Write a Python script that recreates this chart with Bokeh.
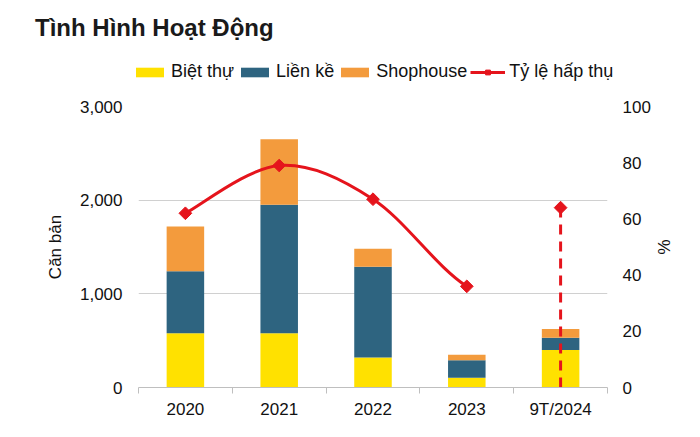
import numpy as np
from bokeh.plotting import figure
from bokeh.layouts import column
from bokeh.models import (Range1d, LinearAxis, FixedTicker, NumeralTickFormatter,
                          Legend, LegendItem, Div, ColumnDataSource)
from bokeh.embed import file_html
from bokeh.resources import INLINE

# ---- data ----
categories = ["2020", "2021", "2022", "2023", "9T/2024"]
biet_thu = [580, 580, 320, 105, 400]
lien_ke = [660, 1370, 970, 185, 130]
shophouse = [480, 700, 190, 60, 95]
ty_le = [62, 79, 67, 36, 64]          # %
left_ticks = [0, 1000, 2000, 3000]
right_ticks = [0, 20, 40, 60, 80, 100]
series_names = ["Biệt thự", "Liền kề", "Shophouse"]
line_name = "Tỷ lệ hấp thụ"
chart_title = "Tình Hình Hoạt Động"

YELLOW = "#FFE100"
BLUE = "#2E6480"
ORANGE = "#F39B3D"
RED = "#E5141C"
FONT = "Liberation Sans"
TXT = "#111111"

W = 684
TITLE_H = 45
LEG_H = 45
MAIN_H = 421 - TITLE_H - LEG_H

xs = [i + 0.5 for i in range(len(categories))]
src = ColumnDataSource(dict(x=xs, biet_thu=biet_thu, lien_ke=lien_ke, shophouse=shophouse))

# ================= title =================
header = Div(text=('<div style="padding:14px 0 0 35px;font-family:\'Liberation Sans\',Arial,sans-serif;'
                   'font-size:24px;font-weight:bold;color:#1a1a1a;line-height:28px;white-space:nowrap;">'
                   + chart_title + '</div>'),
             width=W, height=TITLE_H, margin=0)

# ================= legend strip =================
top = figure(width=W, height=LEG_H, x_range=Range1d(-3, -2), y_range=Range1d(0, 1),
             output_backend="svg", toolbar_location=None, title=None,
             x_axis_location=None, y_axis_location=None,
             min_border_left=0, min_border_right=0, min_border_top=0, min_border_bottom=0)
top.outline_line_color = None
top.xgrid.visible = False
top.ygrid.visible = False

# legend keys: same series, lying outside this strip's visible range
kb = top.vbar_stack(["biet_thu", "lien_ke", "shophouse"], x="x", width=0.4, source=src,
                    color=[YELLOW, BLUE, ORANGE], line_color=None)
kl = top.line(x=xs[:4], y=ty_le[:4], line_color=RED, line_width=3)
km = top.scatter(x=xs, y=ty_le, marker="square", angle=np.pi / 4, size=10,
                 fill_color=RED, line_color=RED)

p = figure(width=W, height=MAIN_H, x_range=Range1d(0, len(categories)), y_range=Range1d(0, 3000),
           output_backend="svg", toolbar_location=None, title=None,
           min_border_left=138, min_border_right=77, min_border_top=106 - TITLE_H - LEG_H,
           min_border_bottom=33)

FA = "frame_align" in top.properties()
if FA:
    top.frame_align = False
    p.frame_align = False
    frame_left = 0
    leg_font, glyph_w, leg_x = "18px", 35, 132
else:
    frame_left = 138
    leg_font, glyph_w, leg_x = "17px", 35, 138

legend = Legend(items=[LegendItem(label=n, renderers=[r]) for n, r in zip(series_names, kb)]
                + [LegendItem(label=line_name, renderers=[kl, km])],
                location=(leg_x - frame_left, 8), orientation="horizontal")
legend.padding = 0
legend.margin = 0
legend.spacing = 3
legend.label_standoff = 4
legend.glyph_width = glyph_w
legend.glyph_height = 12
legend.label_height = 18
legend.label_text_font = FONT
legend.label_text_font_size = leg_font
legend.label_text_color = TXT
legend.border_line_color = None
legend.background_fill_alpha = 0
top.add_layout(legend, "center")

# ================= main chart =================
p.outline_line_color = None
p.background_fill_color = "white"
p.extra_y_ranges = {"pct": Range1d(0, 100)}

p.vbar_stack(["biet_thu", "lien_ke", "shophouse"], x="x", width=0.4, source=src,
             color=[YELLOW, BLUE, ORANGE], line_color=None)

# smooth curve (cubic bezier through the first 4 points)
n = 4
px = xs[:n]
py = ty_le[:n]
tx, ty = [], []
for i in range(n):
    if i == 0:
        tx.append((px[1] - px[0]) / 6.0); ty.append((py[1] - py[0]) / 6.0)
    elif i == n - 1:
        tx.append((px[i] - px[i - 2]) / 6.0); ty.append((py[i] - py[i - 2]) / 6.0)
    else:
        tx.append((px[i + 1] - px[i - 1]) / 6.0); ty.append((py[i + 1] - py[i - 1]) / 6.0)
bx0, by0 = px[:-1], py[:-1]
bx1, by1 = px[1:], py[1:]
cx0 = [px[i] + tx[i] for i in range(n - 1)]
cy0 = [py[i] + ty[i] for i in range(n - 1)]
cx1 = [px[i + 1] - tx[i + 1] for i in range(n - 1)]
cy1 = [py[i + 1] - ty[i + 1] for i in range(n - 1)]
p.bezier(x0=bx0, y0=by0, x1=bx1, y1=by1, cx0=cx0, cy0=cy0, cx1=cx1, cy1=cy1,
         line_color=RED, line_width=3, y_range_name="pct")

# dashed vertical for the last period
p.segment(x0=[xs[-1]], y0=[0], x1=[xs[-1]], y1=[ty_le[-1]], line_color=RED, line_width=3,
          line_dash="10 7", y_range_name="pct")

p.scatter(x=xs, y=ty_le, marker="square", angle=np.pi / 4, size=9,
          fill_color=RED, line_color=RED, y_range_name="pct")

# grid
p.xgrid.visible = False
p.ygrid.ticker = FixedTicker(ticks=left_ticks)
p.ygrid.grid_line_color = "#D0D0D0"
p.ygrid.grid_line_width = 1

# x axis
xa = p.xaxis[0]
xa.ticker = FixedTicker(ticks=xs, minor_ticks=list(range(len(categories) + 1)))
xa.major_label_overrides = {x: c for x, c in zip(xs, categories)}
xa.major_tick_line_color = None
xa.minor_tick_line_color = "#BFBFBF"
xa.minor_tick_out = 6
xa.minor_tick_in = 0
xa.axis_line_color = "#BFBFBF"
xa.major_label_text_font = FONT
xa.major_label_text_font_size = "17px"
xa.major_label_text_color = TXT
xa.major_label_standoff = 6

# left axis
ya = p.yaxis[0]
ya.ticker = FixedTicker(ticks=left_ticks)
ya.formatter = NumeralTickFormatter(format="0,0")
ya.axis_line_color = None
ya.major_tick_line_color = None
ya.minor_tick_line_color = None
ya.major_label_text_font = FONT
ya.major_label_text_font_size = "17px"
ya.major_label_text_color = TXT
ya.major_label_standoff = 10
ya.axis_label = "Căn bản"
ya.axis_label_text_font = FONT
ya.axis_label_text_font_size = "17px"
ya.axis_label_text_font_style = "normal"
ya.axis_label_text_color = TXT
ya.axis_label_standoff = 12

# right axis
ra = LinearAxis(y_range_name="pct", ticker=FixedTicker(ticks=right_ticks))
ra.axis_line_color = None
ra.major_tick_line_color = None
ra.minor_tick_line_color = None
ra.major_label_text_font = FONT
ra.major_label_text_font_size = "17px"
ra.major_label_text_color = TXT
ra.major_label_standoff = 9
ra.axis_label = "%"
ra.axis_label_text_font = FONT
ra.axis_label_text_font_size = "17px"
ra.axis_label_text_font_style = "normal"
ra.axis_label_text_color = TXT
ra.axis_label_standoff = 0
p.add_layout(ra, "right")

open("out.html", "w").write(file_html(column(header, top, p, spacing=0), INLINE))
